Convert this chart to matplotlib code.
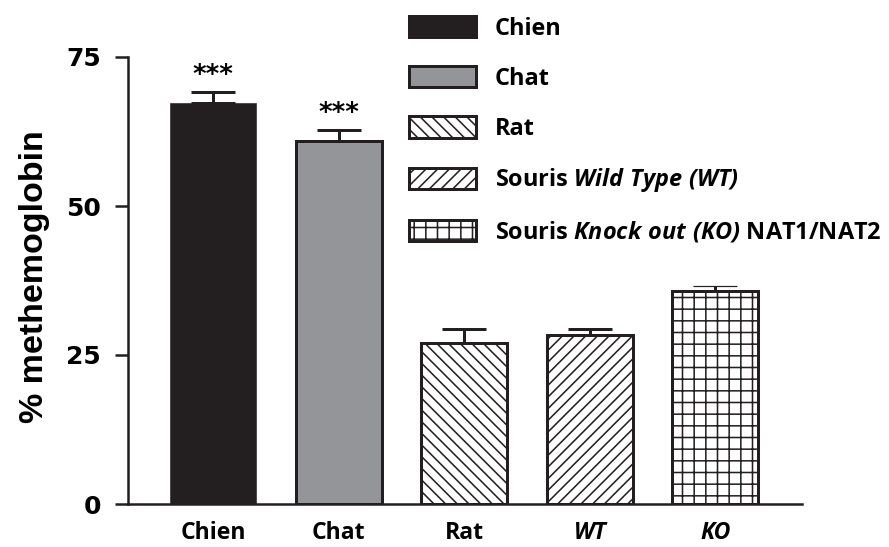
import matplotlib
matplotlib.use("Agg")
import matplotlib.pyplot as plt
from matplotlib.patches import Patch

# ---- data ----
categories = ["Chien", "Chat", "Rat", "WT", "KO"]
values = [67.3, 60.9, 27.0, 28.4, 35.7]
errors = [1.8, 1.9, 2.4, 1.0, 0.9]
significance = ["***", "***", "", "", ""]
legend_labels = [
    "Chien",
    "Chat",
    "Rat",
    r"Souris $\mathit{Wild\ Type\ (WT)}$",
    r"Souris $\mathit{Knock\ out\ (KO)}$ NAT1/NAT2",
]
yticks = [0, 25, 50, 75]

DPI = 140
W, H = 889, 547


def pt(px):
    return px * 72.0 / DPI


dark = "#231f20"
facecolors = [dark, "#939598", "white", "white", "white"]
hatches = [None, None, "\\\\\\\\", "////", "++"]

plt.rcParams["hatch.linewidth"] = 0.8
plt.rcParams["mathtext.fontset"] = "custom"
plt.rcParams["mathtext.it"] = "Open Sans:italic:bold"
plt.rcParams["mathtext.rm"] = "Open Sans:italic:bold"
plt.rcParams["mathtext.bf"] = "Open Sans:italic:bold"

fig = plt.figure(figsize=(W / DPI, H / DPI), dpi=DPI)
ax = fig.add_axes([128 / W, (H - 504) / H, 674 / W, 447 / H])

x = list(range(len(categories)))
bars = ax.bar(x, values, width=0.685, color=facecolors, edgecolor=dark,
              linewidth=pt(3), zorder=2)
for b, h in zip(bars, hatches):
    if h:
        b.set_hatch(h)
bars[0].set_linewidth(0.3)

# error bars (upper only)
ax.errorbar(x[:4], values[:4], yerr=[[0] * 4, errors[:4]], fmt="none",
            ecolor=dark, elinewidth=pt(3), capsize=pt(22), capthick=pt(3), zorder=1)
ax.errorbar(x[4:], values[4:], yerr=[[0], errors[4:]], fmt="none",
            ecolor=dark, elinewidth=pt(3), capsize=pt(22), capthick=pt(1.2), zorder=1)

for xi, v, e, s in zip(x, values, errors, significance):
    if s:
        ax.annotate(s, (xi, v + e), xytext=(0, pt(9)), textcoords="offset points",
                    ha="center", va="baseline", fontsize=pt(26),
                    fontweight="bold", family="DejaVu Sans", color="black")

ax.set_xlim(-0.68, 4.69)
ax.set_ylim(0, 75)
ax.set_yticks(yticks)
ax.set_yticklabels([str(t) for t in yticks], fontsize=pt(25), fontweight="bold",
                   family="DejaVu Sans")
ax.set_xticks(x)
ax.set_xticklabels(categories, fontsize=pt(23), fontweight="bold", family="Open Sans")
for lbl in ax.get_xticklabels()[3:]:
    lbl.set_style("italic")

ax.tick_params(axis="y", length=pt(13), width=pt(2.5), pad=pt(14), color=dark)
ax.tick_params(axis="x", length=0, pad=pt(17))
for side in ["top", "right"]:
    ax.spines[side].set_visible(False)
for side in ["left", "bottom"]:
    ax.spines[side].set_linewidth(pt(2.5))
    ax.spines[side].set_color(dark)

ax.set_ylabel("% methemoglobin", fontsize=pt(34), fontweight="bold",
              family="Liberation Sans")
ax.yaxis.set_label_coords(-0.116, 0.508)

handles = [Patch(facecolor=fc, edgecolor=dark, hatch=h, linewidth=pt(3))
           for fc, h in zip(facecolors, hatches)]
fs_px = 23.5
leg = fig.legend(handles, legend_labels, loc="upper left",
                 bbox_to_anchor=(409 / W, 1 - 16 / H), frameon=False,
                 borderpad=0, borderaxespad=0,
                 handlelength=67 / fs_px, handleheight=24 / fs_px,
                 handletextpad=19 / fs_px, labelspacing=1.08,
                 prop={"family": "Open Sans", "weight": "bold", "size": pt(fs_px)})

fig.savefig("out.png", dpi=DPI)
